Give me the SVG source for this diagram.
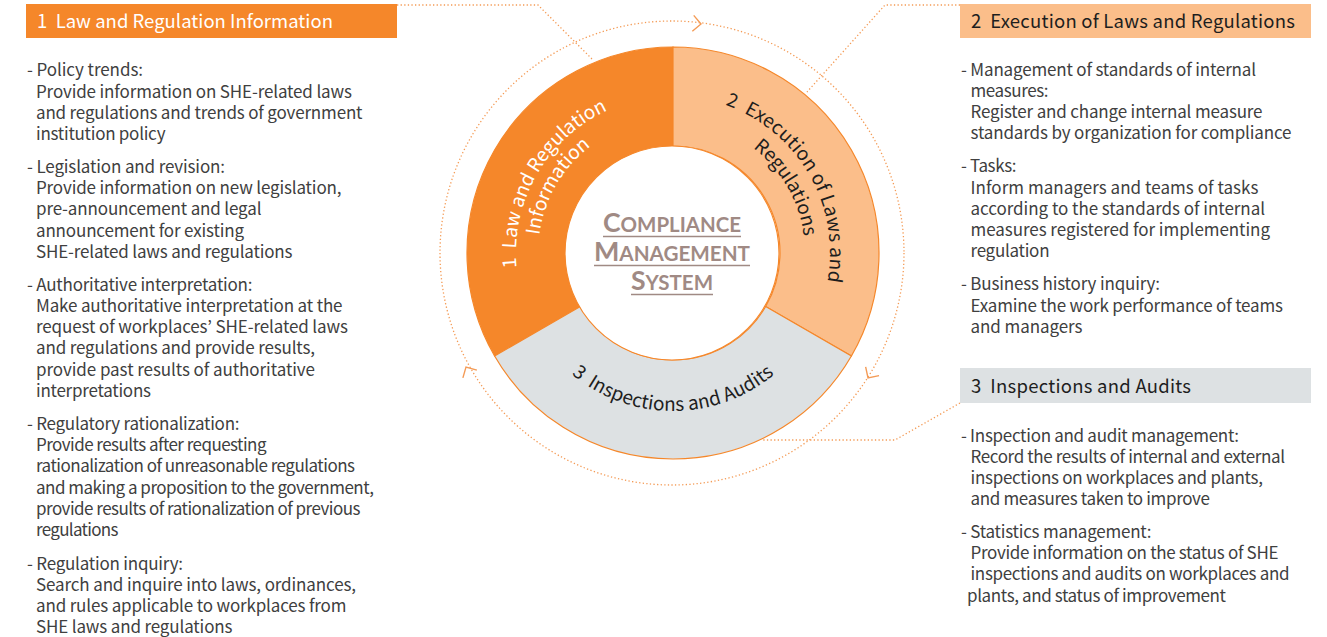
<svg xmlns="http://www.w3.org/2000/svg" width="1327" height="637" viewBox="0 0 1327 637">
<style>
.body{font-family:"Noto Sans CJK KR","Noto Sans",sans-serif;font-size:17px;fill:#404040;}
.hd{font-family:"Noto Sans CJK KR","Noto Sans",sans-serif;font-size:18.5px;}
.ring{font-family:"Noto Sans CJK KR","Noto Sans",sans-serif;font-size:19px;}
.dot{fill:none;stroke:#F49B56;stroke-width:1.3;stroke-dasharray:1.3 2.3;}
.chev{fill:none;stroke:#F49B56;stroke-width:1.4;}
.seg{stroke:#F5872A;stroke-width:1.2;}
.ctr{font-family:"Lato","Open Sans",sans-serif;fill:#A08A84;font-weight:bold;}
.ul{stroke:#A08A84;stroke-width:1.5;}
</style>
<defs>
<path id="chevron" d="M-8,-8 L0,0 L-8,8"/>
<path id="p1o" d="M552.73,353.92 A157 157 0 0 1 700.26,98.38"/>
<path id="p1i" d="M571.12,338.49 A132 132 0 0 1 696.10,122.02"/>
<path id="p2o" d="M645.74,98.38 A157 157 0 0 1 793.27,353.92"/>
<path id="p2i" d="M650.08,123.00 A132 132 0 0 1 774.12,337.85"/>
<path id="p3" d="M524.53,307.04 A158 158 0 0 0 821.47,307.04"/>
</defs>
<rect width="1327" height="637" fill="#FFFFFF"/>

<g id="connectors">
<circle class="dot" cx="672" cy="253" r="232"/>
<use href="#chevron" class="chev" transform="translate(701,24) rotate(5)"/>
<use href="#chevron" class="chev" transform="translate(868,378) rotate(123)"/>
<use href="#chevron" class="chev" transform="translate(466,367) rotate(241)"/>
<polyline class="dot" points="397,5 538,5 593,60"/>
<polyline class="dot" points="960,5 885,5 807,92"/>
<polyline class="dot" points="960,403 895,440 763,440"/>
</g>

<g id="ring">
<g id="seg1">
<path class="seg" fill="#F5872A" d="M494.6,356 A206 206 0 0 1 673,47 L673,146 A107 107 0 0 0 580.34,306.5 Z"/>
<text class="ring" fill="#FFFFFF" xml:space="preserve"><textPath href="#p1o" startOffset="50%" text-anchor="middle">1  Law and Regulation</textPath></text>
<text class="ring" fill="#FFFFFF"><textPath href="#p1i" startOffset="50%" text-anchor="middle">Information</textPath></text>
</g>
<g id="seg2">
<path class="seg" fill="#FBBE8A" d="M673,47 A206 206 0 0 1 851.4,356 L765.66,306.5 A107 107 0 0 0 673,146 Z"/>
<text class="ring" fill="#1E1E1E" xml:space="preserve"><textPath href="#p2o" startOffset="50%" text-anchor="middle" textLength="222">2  Execution of Laws and</textPath></text>
<text class="ring" fill="#1E1E1E"><textPath href="#p2i" startOffset="50%" text-anchor="middle">Regulations</textPath></text>
</g>
<g id="seg3">
<path class="seg" fill="#DDE1E3" d="M851.4,356 A206 206 0 0 1 494.6,356 L580.34,306.5 A107 107 0 0 0 765.66,306.5 Z"/>
<text class="ring" fill="#1E1E1E" xml:space="preserve"><textPath href="#p3" startOffset="50%" text-anchor="middle">3  Inspections and Audits</textPath></text>
</g>
</g>

<g id="center">
<circle cx="672" cy="253" r="107" fill="#FFFFFF" stroke="#F5872A" stroke-width="1.2"/>
<text class="ctr" x="603" y="232" textLength="138" lengthAdjust="spacingAndGlyphs"><tspan font-size="26">C</tspan><tspan font-size="20">OMPLIANCE</tspan></text>
<line class="ul" x1="603" y1="236.5" x2="741" y2="236.5"/>
<text class="ctr" x="594" y="261" textLength="156" lengthAdjust="spacingAndGlyphs"><tspan font-size="26">M</tspan><tspan font-size="20">ANAGEMENT</tspan></text>
<line class="ul" x1="594" y1="265.5" x2="750" y2="265.5"/>
<text class="ctr" x="631" y="290" textLength="82" lengthAdjust="spacingAndGlyphs"><tspan font-size="26">S</tspan><tspan font-size="20">YSTEM</tspan></text>
<line class="ul" x1="631" y1="294.5" x2="713" y2="294.5"/>
</g>

<g id="panel1">
<rect x="26" y="4" width="371" height="34" fill="#F5872A"/>
<text class="hd" x="37" y="27.5" fill="#FFFFFF" xml:space="preserve" textLength="296">1  Law and Regulation Information</text>
<text class="body" x="27" y="76" textLength="116">- Policy trends:</text>
<text class="body" x="36" y="97.5" textLength="316">Provide information on SHE-related laws</text>
<text class="body" x="36" y="118.7" textLength="326.5">and regulations and trends of government</text>
<text class="body" x="36" y="139.9" textLength="129.5">institution policy</text>
<text class="body" x="27" y="172.9" textLength="198">- Legislation and revision:</text>
<text class="body" x="36" y="194.1" textLength="305.5">Provide information on new legislation,</text>
<text class="body" x="36" y="215.3" textLength="225.5">pre-announcement and legal</text>
<text class="body" x="36" y="236.5" textLength="208">announcement for existing</text>
<text class="body" x="36" y="257.7" textLength="256.5">SHE-related laws and regulations</text>
<text class="body" x="27" y="290.7" textLength="225.5">- Authoritative interpretation:</text>
<text class="body" x="36" y="311.9" textLength="306.5">Make authoritative interpretation at the</text>
<text class="body" x="36" y="333.1" textLength="312">request of workplaces’ SHE-related laws</text>
<text class="body" x="36" y="354.3" textLength="279">and regulations and provide results,</text>
<text class="body" x="36" y="375.5" textLength="279">provide past results of authoritative</text>
<text class="body" x="36" y="396.7" textLength="115">interpretations</text>
<text class="body" x="27" y="430" textLength="212.5">- Regulatory rationalization:</text>
<text class="body" x="36" y="451.2" textLength="230.5">Provide results after requesting</text>
<text class="body" x="36" y="472.4" textLength="319">rationalization of unreasonable regulations</text>
<text class="body" x="36" y="493.6" textLength="338">and making a proposition to the government,</text>
<text class="body" x="36" y="514.8" textLength="324.5">provide results of rationalization of previous</text>
<text class="body" x="36" y="536" textLength="82.5">regulations</text>
<text class="body" x="27" y="569.5" textLength="156">- Regulation inquiry:</text>
<text class="body" x="36" y="590.7" textLength="320">Search and inquire into laws, ordinances,</text>
<text class="body" x="36" y="611.9" textLength="310.5">and rules applicable to workplaces from</text>
<text class="body" x="36" y="633.1" textLength="196.5">SHE laws and regulations</text>
</g>

<g id="panel2">
<rect x="960" y="4" width="351" height="34" fill="#FBBE8A"/>
<text class="hd" x="971" y="27.5" fill="#1E1E1E" xml:space="preserve" textLength="324">2  Execution of Laws and Regulations</text>
<text class="body" x="961" y="76" textLength="295">- Management of standards of internal</text>
<text class="body" x="970.5" y="96.9" textLength="78">measures:</text>
<text class="body" x="970.5" y="118.2" textLength="292">Register and change internal measure</text>
<text class="body" x="970.5" y="139.4" textLength="321">standards by organization for compliance</text>
<text class="body" x="961" y="172" textLength="55.5">- Tasks:</text>
<text class="body" x="970.5" y="193.5" textLength="288">Inform managers and teams of tasks</text>
<text class="body" x="970.5" y="214.8" textLength="294.5">according to the standards of internal</text>
<text class="body" x="970.5" y="236" textLength="299.5">measures registered for implementing</text>
<text class="body" x="970.5" y="257" textLength="79">regulation</text>
<text class="body" x="961" y="290" textLength="199">- Business history inquiry:</text>
<text class="body" x="970.5" y="311.5" textLength="312.5">Examine the work performance of teams</text>
<text class="body" x="970.5" y="333" textLength="112">and managers</text>
</g>

<g id="panel3">
<rect x="960" y="368" width="351" height="35" fill="#DDE1E3"/>
<text class="hd" x="971" y="392.5" fill="#1E1E1E" xml:space="preserve" textLength="220">3  Inspections and Audits</text>
<text class="body" x="961" y="441.7" textLength="278">- Inspection and audit management:</text>
<text class="body" x="970.5" y="463" textLength="314.5">Record the results of internal and external</text>
<text class="body" x="970.5" y="484" textLength="292.5">inspections on workplaces and plants,</text>
<text class="body" x="970.5" y="505" textLength="239.5">and measures taken to improve</text>
<text class="body" x="961" y="538.3" textLength="190.5">- Statistics management:</text>
<text class="body" x="970.5" y="559.3" textLength="308">Provide information on the status of SHE</text>
<text class="body" x="970.5" y="580.3" textLength="319">inspections and audits on workplaces and</text>
<text class="body" x="967" y="601.5" textLength="259">plants, and status of improvement</text>
</g>
</svg>
